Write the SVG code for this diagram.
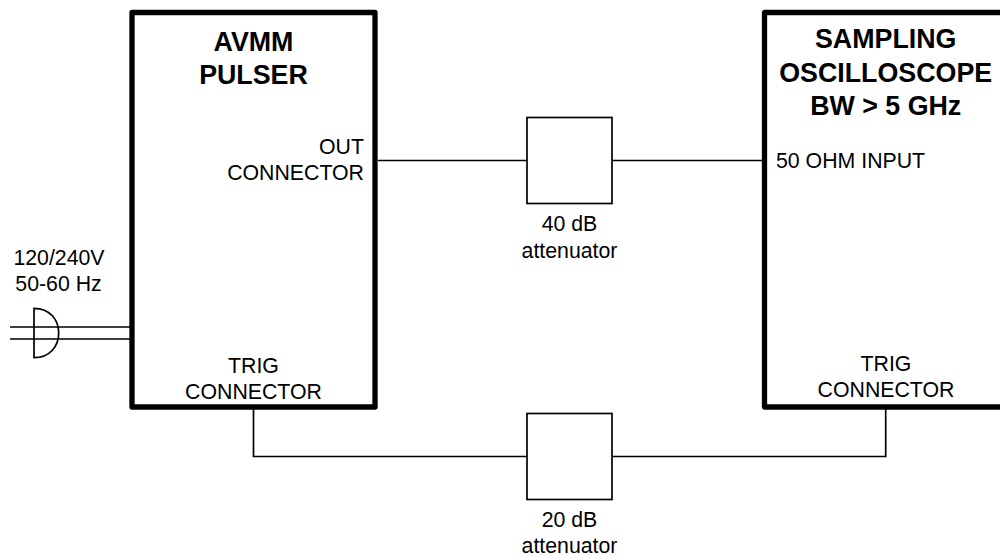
<svg xmlns="http://www.w3.org/2000/svg" width="1000" height="555" viewBox="0 0 1000 555">
<style>
.t{font-family:"Liberation Sans",Arial,sans-serif;font-size:21.3px;fill:#000;text-anchor:middle}
.e{text-anchor:end}
.s{text-anchor:start}
.b{font-family:"Liberation Sans",Arial,sans-serif;font-size:26.8px;font-weight:bold;fill:#000;text-anchor:middle}
.box{fill:#fff;stroke:#000;stroke-width:5.3;stroke-linejoin:round}
.att{fill:#fff;stroke:#000;stroke-width:1.7}
.w{fill:none;stroke:#000;stroke-width:1.7}
</style>
<rect width="1000" height="555" fill="#fff"/>
<g id="connectors">
<path class="w" d="M378 160.500H527M612 160.500H765"/>
<path class="w" d="M253.500 408V456.500H527M612 456.500H885.700V408"/>
<path class="w" d="M10 327H131M10 339H131"/>
</g>
<g id="plug"><path class="w" d="M34 308.300C50 308.300 58.700 320 58.700 333C58.700 346 50 357.700 34 357.700Z"/></g>
<g id="avmm">
<rect class="box" x="132" y="12.500" width="243" height="394.500"/>
<text class="b" x="253.500" y="50.500">AVMM</text>
<text class="b" x="253.500" y="84">PULSER</text>
<text class="t e" x="364" y="154">OUT</text>
<text class="t e" x="364" y="180">CONNECTOR</text>
<text class="t" x="253.500" y="373">TRIG</text>
<text class="t" x="253.500" y="399">CONNECTOR</text>
</g>
<g id="scope">
<rect class="box" x="764.500" y="12.500" width="245" height="394.500"/>
<text class="b" x="885.700" y="47.500">SAMPLING</text>
<text class="b" x="885.700" y="81.500">OSCILLOSCOPE</text>
<text class="b" x="885.700" y="115">BW &gt; 5 GHz</text>
<text class="t s" x="776" y="168">50 OHM INPUT</text>
<text class="t" x="886" y="371">TRIG</text>
<text class="t" x="886" y="397">CONNECTOR</text>
</g>
<g id="att40">
<rect class="att" x="527" y="117.500" width="85" height="86"/>
<text class="t" x="569.500" y="231">40 dB</text>
<text class="t" x="569.500" y="257.500">attenuator</text>
</g>
<g id="att20">
<rect class="att" x="527" y="413.500" width="85" height="86"/>
<text class="t" x="569.500" y="527">20 dB</text>
<text class="t" x="569.500" y="552.500">attenuator</text>
</g>
<g id="mains">
<text class="t" x="59" y="265">120/240V</text>
<text class="t" x="58.500" y="291">50-60 Hz</text>
</g>
</svg>
